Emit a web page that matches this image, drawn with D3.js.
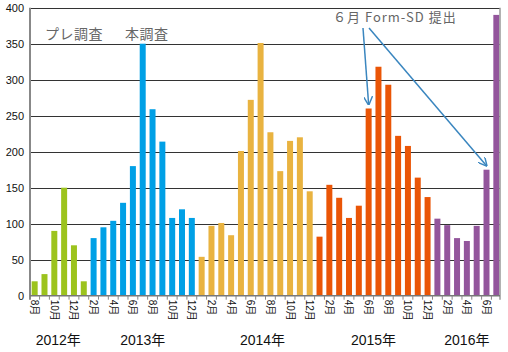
<!DOCTYPE html>
<html>
<head>
<meta charset="utf-8">
<script src="https://cdn.jsdelivr.net/npm/d3@7"></script>
<style>
  body { margin: 0; background: #fff; }
  svg { display: block; }
</style>
</head>
<body>
<svg id="chart" width="508" height="352"></svg>
<script>
// Monthly counts, Aug 2012 - Jul 2016
const months = [
  "2012-08", "2012-09", "2012-10", "2012-11", "2012-12",
  "2013-01", "2013-02", "2013-03", "2013-04", "2013-05", "2013-06", "2013-07",
  "2013-08", "2013-09", "2013-10", "2013-11", "2013-12",
  "2014-01", "2014-02", "2014-03", "2014-04", "2014-05", "2014-06", "2014-07",
  "2014-08", "2014-09", "2014-10", "2014-11", "2014-12",
  "2015-01", "2015-02", "2015-03", "2015-04", "2015-05", "2015-06", "2015-07",
  "2015-08", "2015-09", "2015-10", "2015-11", "2015-12",
  "2016-01", "2016-02", "2016-03", "2016-04", "2016-05", "2016-06", "2016-07"
];
const counts = [
  20, 30, 90, 150, 70,
  20, 80, 95, 104, 129, 180, 350,
  259, 214, 108, 120, 108,
  54, 97, 101, 84, 201, 272, 351,
  227, 173, 215, 220, 145,
  82, 154, 136, 108, 125, 260, 318,
  293, 222, 208, 164, 137,
  107, 98, 80, 76, 97, 175, 390
];
// period each month belongs to
const periods = ["pre", "2013", "2014", "2015", "2016"];
const periodStart = ["2012-08", "2013-02", "2014-01", "2015-01", "2016-01"];
const periodColors = ["#9cc31d", "#00a0e6", "#e9b340", "#ea5506", "#93559c"];

const yTicks = [0, 50, 100, 150, 200, 250, 300, 350, 400];
const years = ["2012年", "2013年", "2014年", "2015年", "2016年"];
const yearPos = [2.4, 11, 23.2, 34.5, 44]; // in month steps

const arrowTargets = ["2015-06", "2016-06"];

const svg = d3.select("#chart");
const font = "'Liberation Sans', Arial, 'Noto Sans CJK JP', sans-serif";
const jpFont = "'Noto Sans CJK JP', sans-serif";

const plotLeft = 30, plotRight = 501, plotTop = 7.7, plotBottom = 295.7;

const x = d3.scaleBand()
  .domain(months)
  .range([plotLeft, plotRight])
  .paddingInner(0.39)
  .paddingOuter(0.17);

const y = d3.scaleLinear().domain([0, 400]).range([plotBottom, plotTop]);

function periodOf(m) {
  let p = 0;
  periodStart.forEach((s, i) => { if (m >= s) p = i; });
  return p;
}

// Gridlines
svg.append("g")
  .selectAll("line")
  .data(yTicks.filter(d => d > 0))
  .enter().append("line")
  .attr("x1", plotLeft).attr("x2", plotRight - 1)
  .attr("y1", d => Math.round(y(d)) + 0.5)
  .attr("y2", d => Math.round(y(d)) + 0.5)
  .attr("stroke", "#333")
  .attr("stroke-width", 1);

// Bars
svg.append("g")
  .selectAll("rect")
  .data(months.map((m, i) => ({ month: m, value: counts[i] })))
  .enter().append("rect")
  .attr("x", d => x(d.month))
  .attr("y", d => y(d.value))
  .attr("width", x.bandwidth())
  .attr("height", d => plotBottom - y(d.value))
  .attr("fill", d => periodColors[periodOf(d.month)]);

// Left axis line and right border
svg.append("line")
  .attr("x1", plotLeft).attr("x2", plotLeft)
  .attr("y1", plotTop).attr("y2", plotBottom + 4)
  .attr("stroke", "#888").attr("stroke-width", 2);
svg.append("line")
  .attr("x1", plotRight - 1).attr("x2", plotRight - 1)
  .attr("y1", plotTop).attr("y2", plotBottom + 4)
  .attr("stroke", "#999").attr("stroke-width", 1.5);

// Bottom axis
svg.append("line")
  .attr("x1", plotLeft).attr("x2", plotRight - 1)
  .attr("y1", plotBottom).attr("y2", plotBottom)
  .attr("stroke", "#777").attr("stroke-width", 1.5);
svg.append("g")
  .selectAll("line")
  .data(months.slice(1))
  .enter().append("line")
  .attr("x1", d => x(d) - x.step() * x.paddingInner() / 2)
  .attr("x2", d => x(d) - x.step() * x.paddingInner() / 2)
  .attr("y1", plotBottom).attr("y2", plotBottom + 4)
  .attr("stroke", "#888").attr("stroke-width", 1);

// Y tick labels
svg.append("g")
  .selectAll("text")
  .data(yTicks)
  .enter().append("text")
  .attr("x", 24)
  .attr("y", d => y(d))
  .attr("dy", "0.35em")
  .attr("text-anchor", "end")
  .attr("font-family", font)
  .attr("font-size", 11)
  .attr("fill", "#111")
  .text(d => d);

// Month labels (even months), rotated
svg.append("g")
  .selectAll("text")
  .data(months.filter(m => +m.slice(5) % 2 === 0))
  .enter().append("text")
  .attr("transform", d => `translate(${x(d) + x.bandwidth() / 2}, ${plotBottom + 4}) rotate(90)`)
  .attr("dy", "0.35em")
  .attr("font-family", font)
  .attr("font-size", 10)
  .attr("fill", "#111")
  .text(d => +d.slice(5) + "月");

// Year labels
svg.append("g")
  .selectAll("text")
  .data(years)
  .enter().append("text")
  .attr("x", (d, i) => x(months[0]) + x.bandwidth() / 2 + yearPos[i] * x.step())
  .attr("y", 345)
  .attr("text-anchor", "middle")
  .attr("font-family", font)
  .attr("font-size", 14)
  .attr("fill", "#111")
  .text(d => d);

// Survey annotations
svg.append("text")
  .attr("x", 45).attr("y", 39)
  .attr("font-family", jpFont)
  .attr("font-size", 14)
  .attr("letter-spacing", "0.5px")
  .attr("fill", "#666")
  .text("プレ調査");
svg.append("text")
  .attr("x", 125).attr("y", 39)
  .attr("font-family", jpFont)
  .attr("font-size", 14)
  .attr("letter-spacing", "0.5px")
  .attr("fill", "#666")
  .text("本調査");

svg.append("text")
  .attr("x", 333).attr("y", 22)
  .attr("font-family", jpFont)
  .attr("font-size", 13)
  .attr("letter-spacing", "1px")
  .attr("fill", "#666")
  .text("６月 Form-SD 提出");

// Arrows
const defs = svg.append("defs");
defs.append("marker")
  .attr("id", "arrow")
  .attr("viewBox", "0 0 10 10")
  .attr("refX", 9).attr("refY", 5)
  .attr("markerWidth", 9).attr("markerHeight", 9)
  .attr("markerUnits", "userSpaceOnUse")
  .attr("orient", "auto")
  .append("path")
  .attr("d", "M0,0 L10,5 L0,10")
  .attr("fill", "none")
  .attr("stroke", "#3a86bf")
  .attr("stroke-width", 1.6);

const starts = [[363, 28], [369, 28]];
svg.append("g")
  .selectAll("line")
  .data(arrowTargets)
  .enter().append("line")
  .attr("x1", (d, i) => starts[i][0])
  .attr("y1", (d, i) => starts[i][1])
  .attr("x2", d => x(d) + x.bandwidth() / 2)
  .attr("y2", d => y(counts[months.indexOf(d)]) - 4)
  .attr("stroke", "#3a86bf")
  .attr("stroke-width", 1.5)
  .attr("marker-end", "url(#arrow)");
</script>
</body>
</html>
